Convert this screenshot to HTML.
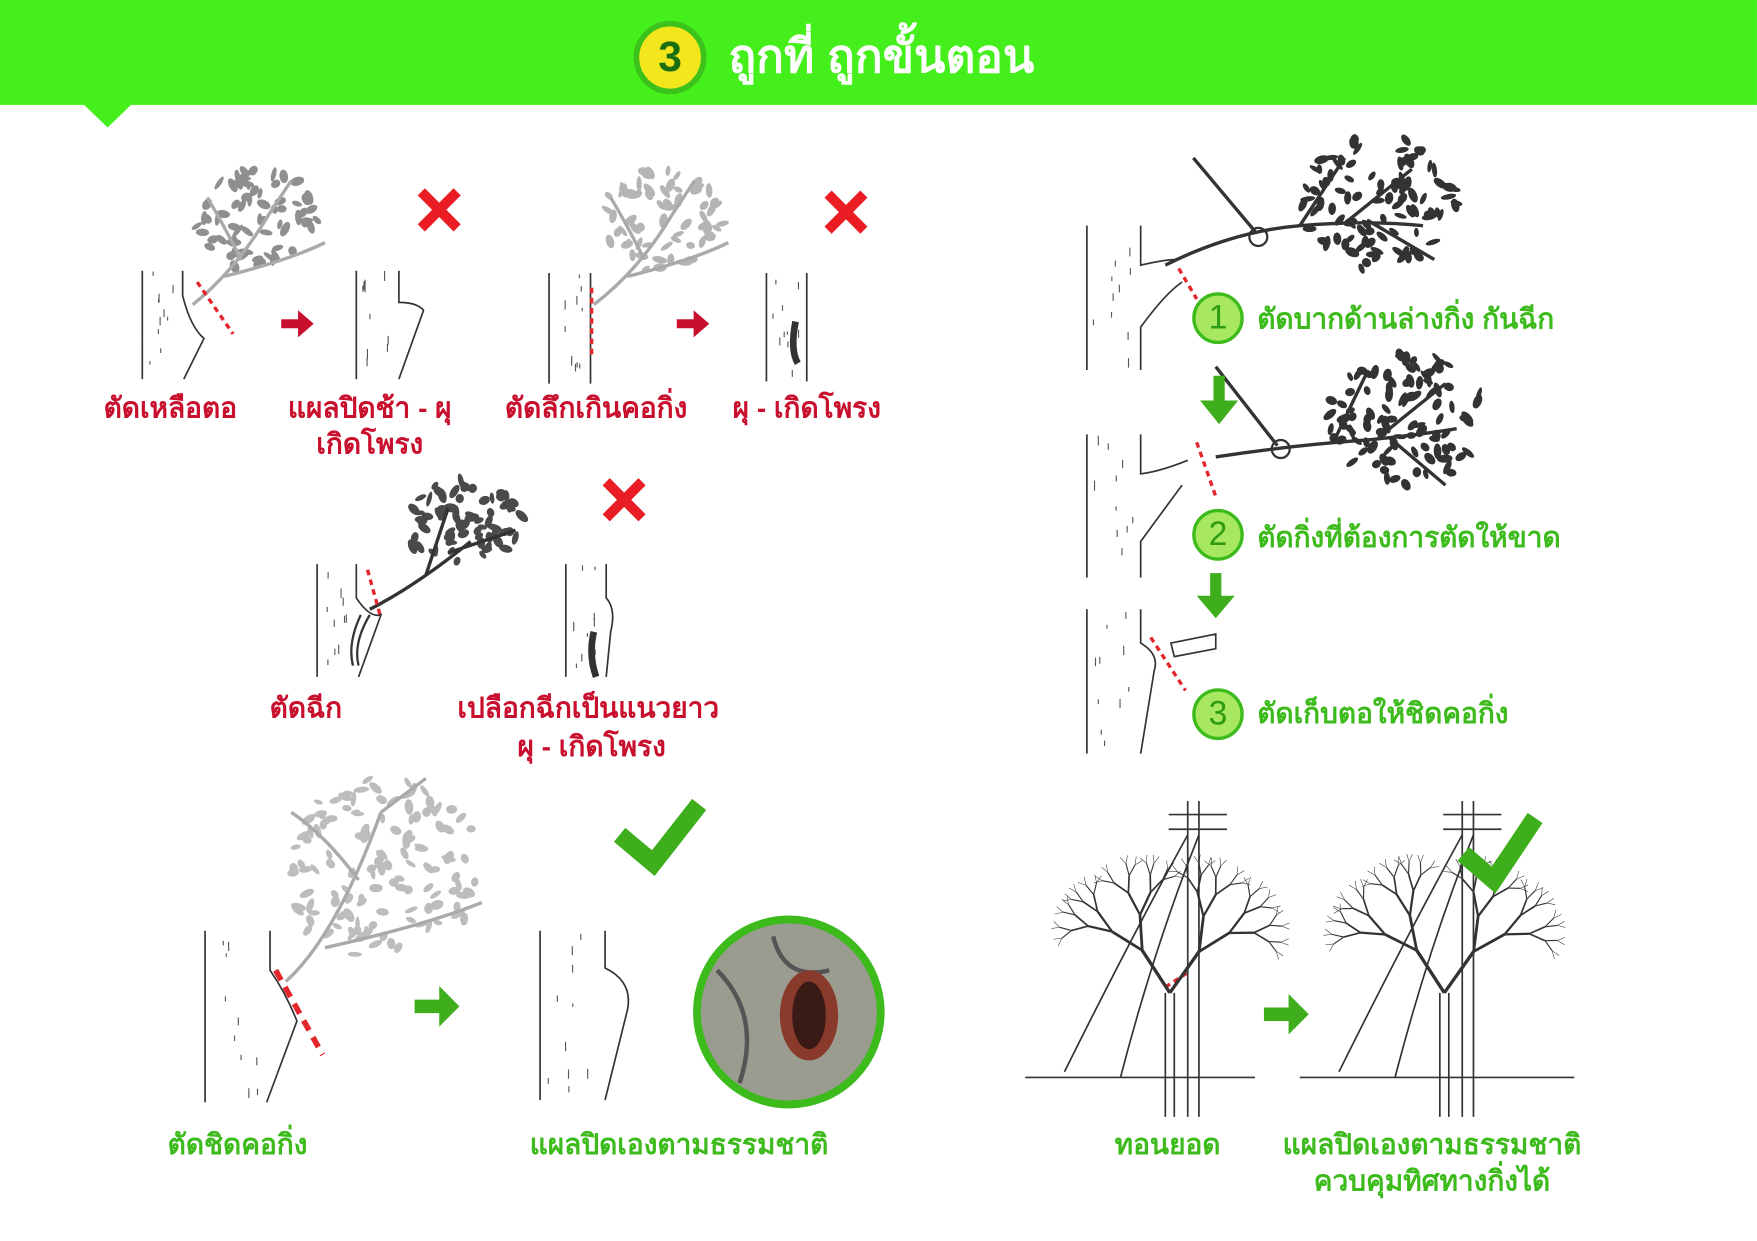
<!DOCTYPE html>
<html><head><meta charset="utf-8"><style>
html,body{margin:0;padding:0;background:#fff;overflow:hidden}
#w{position:absolute;left:0;top:0;width:1568px;height:1100px;transform-origin:0 0;transform:scale(1.1205,1.1282);font-family:"Liberation Sans","Noto Sans CJK SC",sans-serif}
.t{position:absolute;white-space:nowrap;font-weight:bold;font-size:25px;transform:translateX(-50%);line-height:30px}
.r{color:#c8102e}.g{color:#3dbb1c}
.l{position:absolute;white-space:nowrap;font-weight:bold;font-size:25px;color:#3dbb1c;line-height:30px}
.c{position:absolute;width:40px;height:40px;border-radius:50%;background:#a8e860;border:3px solid #3dbb1c;color:#2f9a12;font-size:30px;text-align:center;line-height:40px;font-weight:normal}
</style></head><body><div id="w">
<svg id="s" width="1568" height="1100" style="position:absolute;left:0;top:0">
<rect x="0" y="0" width="1568" height="93" fill="#44ef1c"/>
<polygon points="74,92 118,92 96,113" fill="#44ef1c"/>
<circle cx="598" cy="51" r="30" fill="#f3e61c" stroke="#3cc21a" stroke-width="5"/>
<g id="leaves"></g>
<g fill="none" stroke="#333" stroke-width="1.5">
<path d="M127 240 L127 336 M163 240 L163 262 Q170 290 182 300 L164 336"/>
<path d="M318 240 L318 336 M356 240 L356 268 Q372 268 378 275 L356 336"/>
<path d="M490 242 L490 340 M527 242 L527 340"/>
<path d="M684 242 L684 338 M720 242 L720 338"/>
<path d="M283 500 L283 600 M318 500 L318 530 Q330 548 340 545 L320 600"/>
<path d="M505 500 L505 600 M541 500 L541 530 Q550 540 545 560 L541 600"/>
<path d="M183 825 L183 977 M241 825 L241 860 Q255 880 265 905 L238 977"/>
<path d="M482 825 L482 975 M540 825 L540 858 Q565 870 560 895 L540 975"/>
<path d="M970 200 L970 328 M1018 200 L1018 235 Q1040 230 1050 230 M1018 328 L1018 290 Q1040 260 1055 250"/>
<path d="M970 385 L970 512 M1018 385 L1018 420 Q1035 418 1060 408 M1018 512 L1018 480 Q1040 450 1055 430"/>
<path d="M970 540 L970 668 M1018 540 L1018 570 Q1035 580 1030 595 L1018 668"/>
</g>
<g stroke="#555" stroke-width="1" id="bark"></g>
<g stroke="#aaa" stroke-width="3" fill="none">
<path d="M172 270 Q210 240 240 190 M200 245 Q260 230 290 215 M215 230 Q200 200 185 175 M240 190 L260 160"/>
<path d="M530 270 Q570 240 600 190 M560 245 Q620 230 650 215 M575 230 Q560 200 545 175 M600 190 L620 160"/>
<path d="M255 870 Q300 830 340 720 M290 840 Q380 820 430 800 M320 780 Q290 740 260 720 M340 720 L380 690"/>
</g>
<g stroke="#333" stroke-width="3" fill="none">
<path d="M330 540 Q370 520 420 480 M380 510 L400 450 M400 490 L460 470"/>
<path d="M1040 235 Q1100 205 1160 200 Q1220 195 1270 200 M1160 200 L1200 140 M1200 198 L1260 150 M1220 195 L1280 230"/>
<path d="M1085 405 Q1150 395 1220 390 Q1270 385 1300 380 M1190 392 L1220 330 M1230 388 L1290 340 M1240 388 L1290 430"/>
<path d="M1065 140 L1120 205 M1085 325 L1140 395"/>
<circle cx="1123" cy="210" r="8" stroke-width="2"/><circle cx="1143" cy="398" r="8" stroke-width="2"/>
<path d="M1045 570 L1085 562 L1085 575 L1048 582 Z" stroke-width="1.5"/>
</g>
<g stroke="#333" stroke-width="2" fill="none">
<path d="M330 545 Q315 570 320 590 M322 545 Q310 570 315 590"/>
<path d="M710 285 Q705 310 712 322" stroke-width="6"/>
<path d="M530 560 Q525 580 532 600" stroke-width="6"/>
</g>
<g stroke="#e3262c" stroke-width="3" stroke-dasharray="5,4" fill="none">
<path d="M176 250 L208 296"/><path d="M528 255 L528 318"/><path d="M328 505 L340 548"/>
<path d="M1052 238 L1068 265"/><path d="M1068 392 L1085 440"/><path d="M1027 565 L1058 612"/>
<path d="M1040 875 L1060 862"/>
</g>
<g stroke="#e3262c" stroke-width="5" stroke-dasharray="10,7"><path d="M246 860 L288 935"/></g>
<g stroke="#ea1c24" stroke-width="9">
<path d="M376 170 L408 202 M408 170 L376 202"/><path d="M739 172 L771 204 M771 172 L739 204"/><path d="M541 427 L573 459 M573 427 L541 459"/>
</g>
<g fill="#c8102e"><path d="M251 283 L266 283 L266 275 L280 287 L266 299 L266 291 L251 291 Z"/><path d="M604 283 L619 283 L619 275 L633 287 L619 299 L619 291 L604 291 Z"/></g>
<g fill="#3fae1c">
<path d="M370 886 L392 886 L392 874 L410 892 L392 910 L392 898 L370 898 Z"/>
<path d="M1128 893 L1150 893 L1150 881 L1168 899 L1150 917 L1150 905 L1128 905 Z"/>
<path d="M1083 333 L1093 333 L1093 355 L1105 355 L1088 376 L1071 355 L1083 355 Z"/>
<path d="M1080 508 L1090 508 L1090 528 L1102 528 L1085 548 L1068 528 L1080 528 Z"/>
</g>
<circle cx="704" cy="897" r="82" fill="#9a9c90" stroke="#3dbb1c" stroke-width="7"/>
<path d="M640 860 Q680 900 660 960 M690 830 Q700 870 740 860" stroke="#555" stroke-width="4" fill="none"/>
<ellipse cx="722" cy="900" rx="26" ry="40" fill="#8a3a2a"/><ellipse cx="722" cy="900" rx="15" ry="30" fill="#3a1a14"/>
<g stroke="#333" stroke-width="1.5" fill="none">
<path d="M915 955 L1120 955 M1160 955 L1405 955"/>
<path d="M1060 710 L1060 990 M1070 710 L1070 990 M1043 722 L1095 722 M1043 735 L1095 735"/>
<path d="M1305 710 L1305 990 M1315 710 L1315 990 M1288 722 L1340 722 M1288 735 L1340 735"/>
<path d="M1040 880 L1040 990 M1048 880 L1048 990 M1285 880 L1285 990 M1293 880 L1293 990"/>
<path d="M1060 740 Q1010 830 950 950 M1070 740 Q1030 840 1000 955 M1305 740 Q1255 830 1195 950 M1315 740 Q1275 840 1245 955"/>
</g>
<g id="bare" stroke="#333" stroke-width="1.2" fill="none"></g>
<g stroke="#3fae1c" stroke-width="16" fill="none"><path d="M553 740 L583 765 L624 713"/><path d="M1306 757 L1333 780 L1370 725"/></g>
</svg>
<script>
(function(){
var seed=7;function r(){seed=(seed*16807)%2147483647;return seed/2147483647;}
var NS="http://www.w3.org/2000/svg";
var L=document.getElementById("leaves");
function cl(cx,cy,rx,ry,n,col){for(var i=0;i<n;i++){var a=r()*6.283,d=Math.sqrt(r());var e=document.createElementNS(NS,"ellipse");
e.setAttribute("cx",cx+Math.cos(a)*d*rx);e.setAttribute("cy",cy+Math.sin(a)*d*ry);e.setAttribute("rx",2+r()*2);e.setAttribute("ry",4+r()*3);
e.setAttribute("transform","rotate("+(r()*180)+" "+(cx+Math.cos(a)*d*rx)+" "+(cy+Math.sin(a)*d*ry)+")");e.setAttribute("fill",col);L.appendChild(e);}}
cl(230,195,55,45,70,"#8f8f8f");cl(590,195,55,45,70,"#b5b5b5");cl(415,465,55,40,70,"#4a4a4a");
cl(1230,180,70,60,100,"#333");cl(1255,370,70,60,100,"#333");cl(340,770,90,80,130,"#bdbdbd");
var B=document.getElementById("bare");
function tree(x,y,len,ang,dep){if(dep==0)return;var x2=x+Math.cos(ang)*len,y2=y+Math.sin(ang)*len;var p=document.createElementNS(NS,"path");
p.setAttribute("d","M"+x+" "+y+" L"+x2+" "+y2);p.setAttribute("stroke-width",dep*0.5);B.appendChild(p);
tree(x2,y2,len*0.7,ang-0.3-r()*0.25,dep-1);tree(x2,y2,len*0.7,ang+0.3+r()*0.25,dep-1);}
tree(1044,880,45,-2.15,6);tree(1044,880,45,-0.95,6);
tree(1289,880,45,-2.15,6);tree(1289,880,45,-0.95,6);
var K=document.getElementById("bark");
[[127,163,240,336],[318,356,240,336],[490,527,242,340],[684,720,242,338],[283,318,500,600],[505,541,500,600],[183,241,825,977],[482,540,825,975],[970,1018,200,328],[970,1018,385,512],[970,1018,540,668]].forEach(function(t){
for(var i=0;i<10;i++){var x=t[0]+5+r()*(t[1]-t[0]-12),y=t[2]+r()*(t[3]-t[2]-10);var p=document.createElementNS(NS,"path");p.setAttribute("d","M"+x+" "+y+" l0 "+(3+r()*6));K.appendChild(p);}});
})();
</script>
<div style="position:absolute;left:583px;top:28px;width:30px;text-align:center;font-size:38px;font-weight:bold;color:#1c6f10;line-height:46px">3</div>
<div style="position:absolute;left:650px;top:25px;font-size:41px;font-weight:bold;color:#fff;white-space:nowrap;line-height:50px">ถูกที่ ถูกขั้นตอน</div>
<div class="t r" style="left:152px;top:347px">ตัดเหลือตอ</div>
<div class="t r" style="left:330px;top:347px">แผลปิดช้า - ผุ</div>
<div class="t r" style="left:330px;top:379px">เกิดโพรง</div>
<div class="t r" style="left:532px;top:347px">ตัดลึกเกินคอกิ่ง</div>
<div class="t r" style="left:720px;top:347px">ผุ - เกิดโพรง</div>
<div class="t r" style="left:273px;top:613px">ตัดฉีก</div>
<div class="t r" style="left:525px;top:613px">เปลือกฉีกเป็นแนวยาว</div>
<div class="t r" style="left:528px;top:647px">ผุ - เกิดโพรง</div>
<div class="t g" style="left:212px;top:1000px">ตัดชิดคอกิ่ง</div>
<div class="t g" style="left:606px;top:1000px">แผลปิดเองตามธรรมชาติ</div>
<div class="t g" style="left:1042px;top:1000px">ทอนยอด</div>
<div class="t g" style="left:1278px;top:1000px">แผลปิดเองตามธรรมชาติ</div>
<div class="t g" style="left:1278px;top:1032px">ควบคุมทิศทางกิ่งได้</div>
<div class="c" style="left:1064px;top:259px">1</div>
<div class="c" style="left:1064px;top:451px">2</div>
<div class="c" style="left:1064px;top:610px">3</div>
<div class="l" style="left:1122px;top:268px">ตัดบากด้านล่างกิ่ง กันฉีก</div>
<div class="l" style="left:1122px;top:462px">ตัดกิ่งที่ต้องการตัดให้ขาด</div>
<div class="l" style="left:1122px;top:618px">ตัดเก็บตอให้ชิดคอกิ่ง</div>
</div></body></html>
